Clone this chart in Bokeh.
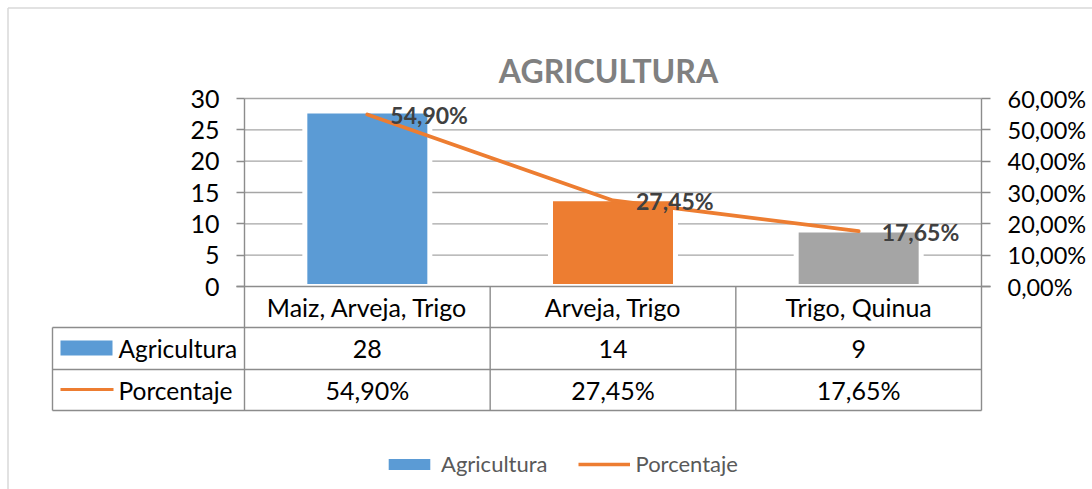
from bokeh.plotting import figure
from bokeh.models import (Range1d, LinearAxis, FixedTicker, CustomJSTickFormatter,
                          ColumnDataSource, Legend, LegendItem, Label)
from bokeh.embed import file_html
from bokeh.resources import INLINE
from bokeh.core.properties import value

# ---------------- data ----------------
categories = ["Maiz, Arveja, Trigo", "Arveja, Trigo", "Trigo, Quinua"]
agricultura = [28, 14, 9]
porcentaje = [54.90, 27.45, 17.65]
bar_colors = ["#5B9BD5", "#ED7D31", "#A5A5A5"]
left_ticks = [0, 5, 10, 15, 20, 25, 30]
right_ticks = [0, 10, 20, 30, 40, 50, 60]
series_names = ["Agricultura", "Porcentaje"]
title_text = "AGRICULTURA"

# ---------------- layout (page pixels) ----------------
W, H = 1092, 489
PL, PR = 244, 981
PT, PB = 98, 286
NCAT = len(categories)
YMAX = left_ticks[-1]
PMAX = right_ticks[-1]
KX = (PR - PL) / NCAT
KY = (PB - PT) / YMAX
R = PMAX / YMAX


def xd(px):
    return (px - PL) / KX


def yd(py):
    return (PB - py) / KY


FONT = "Lato"
FS = "25px"
AX = "#8C8C8C"
GRID = "#A6A6A6"
BLUE, ORANGE = bar_colors[0], bar_colors[1]

p = figure(width=W, height=H, output_backend="svg", toolbar_location=None,
           x_range=Range1d(xd(0), xd(W)),
           y_range=Range1d(yd(H), yd(0)),
           x_axis_location=None, y_axis_location=None,
           min_border=0, outline_line_color=None,
           background_fill_color="white", border_fill_color="white")
p.xgrid.visible = False
p.ygrid.visible = False
p.extra_y_ranges = {"pct": Range1d(yd(H) * R, yd(0) * R)}

TB = [yd(327), yd(369), yd(410)]  # table row lines
XL = xd(52)

# outer chart border (left & top)
p.segment(x0=[xd(7.5), xd(7.5)], y0=[yd(H), yd(7.5)],
          x1=[xd(7.5), xd(W)], y1=[yd(7.5), yd(7.5)],
          line_color="#D9D9D9", line_width=1.5)

# gridlines
p.segment(x0=[0] * (len(left_ticks) - 1), x1=[NCAT] * (len(left_ticks) - 1),
          y0=left_ticks[1:], y1=left_ticks[1:], line_color=GRID, line_width=1.4)

# bars
xs = [i + 0.5 for i in range(NCAT)]
src = ColumnDataSource(dict(x=xs, top=agricultura, color=bar_colors))
p.vbar(x="x", top="top", width=125 / KX, fill_color="color", line_color="white",
       line_width=5, source=src)

# category baseline
p.segment(x0=[xd(236)], x1=[xd(PR + 9)], y0=[0], y1=[0], line_color=AX, line_width=1.4)

# percentage line
p.line(xs, porcentaje, y_range_name="pct", line_color=ORANGE, line_width=3.8,
       line_cap="round", line_join="round")

pct_labels = [("%.2f" % v).replace(".", ",") + "%" for v in porcentaje]
p.text(xs, porcentaje, text=pct_labels, y_range_name="pct", x_offset=23, y_offset=1,
       text_baseline="middle", text_align="left", text_font=value(FONT),
       text_font_style="bold", text_font_size="23px", text_color="#404040")

# axes
ly = LinearAxis(ticker=FixedTicker(ticks=left_ticks), fixed_location=0,
                bounds=(TB[2], YMAX), axis_line_color=AX, axis_line_width=1.4,
                major_tick_line_color=AX, major_tick_line_width=1.4,
                major_tick_out=8, major_tick_in=0, minor_tick_line_color=None,
                major_label_text_font=FONT, major_label_text_font_size=FS,
                major_label_text_color="#000000", major_label_standoff=17)
p.add_layout(ly, "left")
ry = LinearAxis(y_range_name="pct", ticker=FixedTicker(ticks=right_ticks),
                fixed_location=NCAT, bounds=(TB[2] * R, PMAX),
                formatter=CustomJSTickFormatter(code="return tick.toFixed(2).replace('.', ',') + '%';"),
                axis_line_color=AX, axis_line_width=1.4,
                major_tick_line_color=AX, major_tick_line_width=1.4,
                major_tick_out=9, major_tick_in=0, minor_tick_line_color=None,
                major_label_text_font=FONT, major_label_text_font_size="23.5px",
                major_label_text_color="#000000", major_label_standoff=17)
p.add_layout(ry, "right")

# data table lines
p.segment(x0=[XL] * 3, x1=[NCAT] * 3, y0=TB, y1=TB, line_color=AX, line_width=1.4)
p.segment(x0=[1, 2, XL], x1=[1, 2, XL], y0=[0, 0, TB[0]], y1=[TB[2]] * 3,
          line_color=AX, line_width=1.4)

# data table texts
p.text(xs, [yd(306.5)] * NCAT, text=categories, text_align="center", text_baseline="middle",
       text_font=value(FONT), text_font_size=FS, text_color="#000000")
p.text(xs, [yd(348)] * NCAT, text=[str(v) for v in agricultura], text_align="center",
       text_baseline="middle", text_font=value(FONT), text_font_size=FS, text_color="#000000")
p.text(xs, [yd(389.5)] * NCAT, text=pct_labels, text_align="center",
       text_baseline="middle", text_font=value(FONT), text_font_size=FS, text_color="#000000")
p.text([xd(118)] * 2, [yd(348), yd(389.5)], text=series_names, text_align="left",
       text_baseline="middle", text_font=value(FONT), text_font_size="24.5px", text_color="#000000")

# data table legend keys
p.rect(x=[xd(86)], y=[yd(347.5)], width=52 / KX, height=15 / KY, fill_color=BLUE, line_color=None)
p.segment(x0=[xd(60)], x1=[xd(113)], y0=[yd(389)], y1=[yd(389)], line_color=ORANGE, line_width=3)

# title
p.add_layout(Label(x=xd(608), y=yd(70), text=title_text, text_align="center",
                   text_baseline="alphabetic", text_font=FONT, text_font_style="bold",
                   text_font_size="32px", text_color="#808080"))

# bottom legend (proxy renderers placed far outside the visible ranges)
leg_bar = p.vbar(x=[-500], bottom=[-5000], top=[-4999], width=0.5, fill_color=BLUE, line_color=None)
leg_line = p.line(x=[-500, -499], y=[-5000, -5000], line_color=ORANGE, line_width=3.5)
legend = Legend(items=[LegendItem(label=series_names[0], renderers=[leg_bar]),
                       LegendItem(label=series_names[1], renderers=[leg_line])],
                orientation="horizontal", location=(383, 12),
                glyph_width=52, glyph_height=14, label_standoff=6, spacing=30,
                padding=0, margin=0, border_line_color=None, background_fill_alpha=0,
                label_text_font=FONT, label_text_font_size="22px",
                label_text_color="#595959", label_height=20)
p.add_layout(legend)

open("out.html", "w").write(file_html(p, INLINE))
